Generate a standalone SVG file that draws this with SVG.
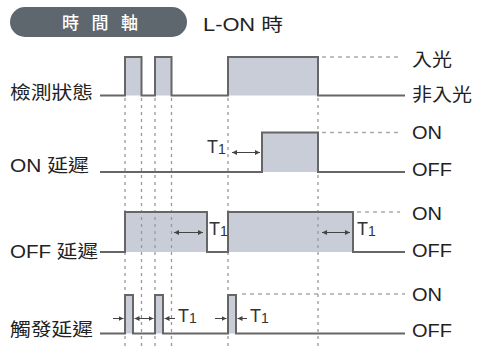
<svg xmlns="http://www.w3.org/2000/svg" width="477" height="349" viewBox="0 0 477 349">
<style>
.lbl{font-family:"Liberation Sans","Noto Sans CJK TC",sans-serif;font-size:18px;fill:#222}
.t1{font-family:"Liberation Sans",sans-serif;font-size:18px;fill:#333}
.wave{fill:none;stroke:#666;stroke-width:2;stroke-linejoin:miter}
.area{fill:#c9cdd8;stroke:none}
.vd{stroke:#999;stroke-width:1.3;stroke-dasharray:3,4;fill:none}
.hd{stroke:#aaa;stroke-width:1.5;stroke-dasharray:4,4;fill:none}
.arr{stroke:#444;stroke-width:1;fill:none}
</style>
<defs>
<marker id="ah" viewBox="0 0 6 6" refX="6" refY="3" markerWidth="5" markerHeight="5" orient="auto-start-reverse" markerUnits="userSpaceOnUse">
<path d="M0,0 L6,3 L0,6 z" fill="#444"/>
</marker>
</defs>

<g id="header">
<rect x="10" y="7" width="177" height="30" rx="15" fill="#5e666e"/>
<text x="62" y="29" font-family="'Noto Sans CJK TC',sans-serif" font-size="17" fill="#fff" font-weight="500" textLength="76" lengthAdjust="spacing">時 間 軸</text>
<text class="lbl" x="203" y="31" font-size="19.5" textLength="80" lengthAdjust="spacingAndGlyphs">L-ON 時</text>
</g>

<g id="fills">
<rect class="area" x="125" y="57" width="16.5" height="38.5"/>
<rect class="area" x="155" y="57" width="16.5" height="38.5"/>
<rect class="area" x="228" y="57" width="90" height="38.5"/>
<rect class="area" x="262" y="132.5" width="56" height="39.5"/>
<rect class="area" x="125" y="212" width="82" height="40"/>
<rect class="area" x="228" y="212" width="125" height="40"/>
<rect class="area" x="125" y="295" width="8" height="38.5"/>
<rect class="area" x="155" y="295" width="8" height="38.5"/>
<rect class="area" x="228" y="295" width="8" height="38.5"/>
</g>

<g id="connectors">
<line class="vd" x1="125" y1="98" x2="125" y2="349"/>
<line class="vd" x1="141.5" y1="98" x2="141.5" y2="349"/>
<line class="vd" x1="155" y1="98" x2="155" y2="349"/>
<line class="vd" x1="171.5" y1="98" x2="171.5" y2="349" stroke-width="2.2" stroke="#888"/>
<line class="vd" x1="228" y1="98" x2="228" y2="349"/>
<line class="vd" x1="318" y1="98" x2="318" y2="349"/>

<line class="hd" x1="322" y1="57" x2="400" y2="57"/>
<line class="hd" x1="322" y1="132.5" x2="400" y2="132.5"/>
<line class="hd" x1="357" y1="212" x2="400" y2="212"/>
<line class="hd" x1="242" y1="294" x2="405" y2="294"/>

<line class="arr" x1="232" y1="152.5" x2="260" y2="152.5" marker-start="url(#ah)" marker-end="url(#ah)"/>
<line class="arr" x1="174" y1="232.5" x2="203" y2="232.5" marker-start="url(#ah)" marker-end="url(#ah)"/>
<line class="arr" x1="322" y1="232.5" x2="350" y2="232.5" marker-start="url(#ah)" marker-end="url(#ah)"/>

<line class="arr" x1="113" y1="318.5" x2="123.5" y2="318.5" marker-end="url(#ah)"/>
<line class="arr" x1="145" y1="318.5" x2="134.5" y2="318.5" marker-end="url(#ah)"/>
<line class="arr" x1="143" y1="318.5" x2="153.5" y2="318.5" marker-end="url(#ah)"/>
<line class="arr" x1="175" y1="318.5" x2="164.5" y2="318.5" marker-end="url(#ah)"/>
<line class="arr" x1="215" y1="318.5" x2="226.5" y2="318.5" marker-end="url(#ah)"/>
<line class="arr" x1="247" y1="318.5" x2="237.5" y2="318.5" marker-end="url(#ah)"/>
</g>

<g id="detect">
<polyline class="wave" points="100,95.5 125,95.5 125,57 141.5,57 141.5,95.5 155,95.5 155,57 171.5,57 171.5,95.5 228,95.5 228,57 318,57 318,95.5 405,95.5"/>
<text class="lbl" x="10" y="99" textLength="83" lengthAdjust="spacingAndGlyphs">檢測狀態</text>
<text class="lbl" x="412" y="66" textLength="40" lengthAdjust="spacingAndGlyphs">入光</text>
<text class="lbl" x="412" y="101" textLength="60" lengthAdjust="spacingAndGlyphs">非入光</text>
</g>

<g id="on-delay">
<polyline class="wave" points="100,172 262,172 262,132.5 318,132.5 318,172 405,172"/>
<text class="lbl" x="10" y="172" textLength="79" lengthAdjust="spacingAndGlyphs">ON 延遲</text>
<text class="lbl" x="412" y="139" textLength="30" lengthAdjust="spacingAndGlyphs">ON</text>
<text class="lbl" x="412" y="176" textLength="40" lengthAdjust="spacingAndGlyphs">OFF</text>
<text class="t1" x="207" y="153">T<tspan font-size="14" dy="1">1</tspan></text>
</g>

<g id="off-delay">
<polyline class="wave" points="100,252 125,252 125,212 207,212 207,252 228,252 228,212 353,212 353,252 405,252"/>
<text class="lbl" x="10" y="258" textLength="88" lengthAdjust="spacingAndGlyphs">OFF 延遲</text>
<text class="lbl" x="412" y="220" textLength="30" lengthAdjust="spacingAndGlyphs">ON</text>
<text class="lbl" x="412" y="257" textLength="40" lengthAdjust="spacingAndGlyphs">OFF</text>
<text class="t1" x="209" y="235">T<tspan font-size="14" dy="1">1</tspan></text>
<text class="t1" x="357" y="235">T<tspan font-size="14" dy="1">1</tspan></text>
</g>

<g id="trigger-delay">
<polyline class="wave" points="100,333.5 125,333.5 125,295 133,295 133,333.5 155,333.5 155,295 163,295 163,333.5 228,333.5 228,295 236,295 236,333.5 405,333.5"/>
<text class="lbl" x="10" y="336" textLength="83" lengthAdjust="spacingAndGlyphs">觸發延遲</text>
<text class="lbl" x="412" y="301" textLength="30" lengthAdjust="spacingAndGlyphs">ON</text>
<text class="lbl" x="412" y="337" textLength="40" lengthAdjust="spacingAndGlyphs">OFF</text>
<text class="t1" x="178" y="322">T<tspan font-size="14" dy="1">1</tspan></text>
<text class="t1" x="250" y="322">T<tspan font-size="14" dy="1">1</tspan></text>
</g>
</svg>
